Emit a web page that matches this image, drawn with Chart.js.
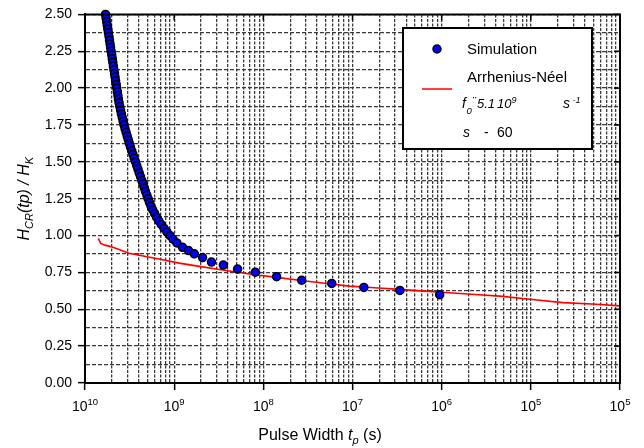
<!DOCTYPE html>
<html>
<head>
<meta charset="utf-8">
<script src="https://cdn.jsdelivr.net/npm/chart.js@4.4.1/dist/chart.umd.min.js"></script>
<style>
  html, body { margin: 0; padding: 0; background: #fff; }
</style>
</head>
<body>
<canvas id="myChart" width="644" height="448"></canvas>
<script>
const FONT = '"Liberation Sans", Arial, Helvetica, sans-serif';

// Simulation: pulse width (s) and H_CR / H_K
const simPulse = [
  1.698e-10, 1.724e-10, 1.750e-10, 1.777e-10, 1.803e-10, 1.830e-10, 1.858e-10, 1.884e-10, 1.910e-10, 1.936e-10,
  1.963e-10, 1.995e-10, 2.023e-10, 2.051e-10, 2.080e-10, 2.109e-10, 2.143e-10, 2.173e-10, 2.203e-10, 2.239e-10,
  2.270e-10, 2.307e-10, 2.339e-10, 2.371e-10, 2.410e-10, 2.455e-10, 2.506e-10, 2.559e-10, 2.618e-10, 2.679e-10,
  2.742e-10, 2.812e-10, 2.891e-10, 2.972e-10, 3.055e-10, 3.141e-10, 3.236e-10, 3.342e-10, 3.451e-10, 3.565e-10,
  3.681e-10, 3.802e-10, 3.926e-10, 4.055e-10, 4.188e-10, 4.325e-10, 4.467e-10, 4.613e-10, 4.764e-10, 4.932e-10,
  5.105e-10, 5.284e-10, 5.495e-10, 5.741e-10, 6.026e-10, 6.339e-10, 6.714e-10, 7.161e-10, 7.674e-10, 8.279e-10,
  8.995e-10, 9.727e-10, 1.072e-9,
  1.24e-9, 1.45e-9, 1.68e-9, 2.08e-9, 2.62e-9, 3.56e-9, 5.14e-9, 8.13e-9, 1.41e-8, 2.69e-8,
  5.85e-8, 1.34e-7, 3.40e-7, 9.50e-7
];
const simField = [
  2.500, 2.475, 2.450, 2.425, 2.400, 2.375, 2.350, 2.325, 2.300, 2.275,
  2.250, 2.225, 2.200, 2.175, 2.150, 2.125, 2.100, 2.075, 2.050, 2.025,
  2.000, 1.975, 1.950, 1.925, 1.900, 1.875, 1.850, 1.825, 1.800, 1.775,
  1.750, 1.725, 1.700, 1.675, 1.650, 1.625, 1.600, 1.575, 1.550, 1.525,
  1.500, 1.475, 1.450, 1.425, 1.400, 1.375, 1.350, 1.325, 1.300, 1.275,
  1.250, 1.225, 1.200, 1.175, 1.150, 1.125, 1.100, 1.075, 1.050, 1.025,
  1.000, 0.975, 0.950,
  0.920, 0.898, 0.876, 0.851, 0.820, 0.800, 0.773, 0.752, 0.721, 0.697,
  0.675, 0.648, 0.628, 0.599
];

// Arrhenius-Neel fit
const fitPulse = [
  1.41e-10, 1.50e-10, 1.68e-10, 1.94e-10, 2.41e-10, 3.12e-10, 4.81e-10, 7.40e-10, 1.14e-9, 1.91e-9,
  3.65e-9, 6.97e-9, 1.33e-8, 2.54e-8, 4.84e-8, 9.25e-8, 1.77e-7, 3.37e-7, 6.44e-7, 1.23e-6,
  2.35e-6, 4.49e-6, 9.75e-6, 2.29e-5, 5.47e-5, 1.0e-4
];
const fitField = [
  0.981, 0.947, 0.935, 0.925, 0.905, 0.880, 0.858, 0.836, 0.813, 0.791,
  0.765, 0.739, 0.718, 0.697, 0.677, 0.657, 0.646, 0.635, 0.623, 0.612,
  0.600, 0.589, 0.568, 0.545, 0.534, 0.523
];

// x axis decade labels (as printed)
const xDecades = [1e-10, 1e-9, 1e-8, 1e-7, 1e-6, 1e-5, 1e-4];
const xDecadeExp = ['10', '9', '8', '7', '6', '5', '5'];

const isDecade = v => Math.abs(Math.log10(v) - Math.round(Math.log10(v))) < 1e-6;
const isQuarter = v => Math.abs(v / 0.25 - Math.round(v / 0.25)) < 1e-6;

function fontOf(r) {
  return (r.italic ? 'italic ' : '') + r.size + 'px ' + FONT;
}

// draw a run of text pieces centred on x, baseline y
function drawRuns(ctx, runs, x, y) {
  let w = 0;
  runs.forEach(r => { ctx.font = fontOf(r); r.w = ctx.measureText(r.t).width; w += r.w; });
  let cx = x - w / 2;
  runs.forEach(r => { ctx.font = fontOf(r); ctx.fillText(r.t, cx, y + (r.dy || 0)); cx += r.w; });
}

function piece(ctx, t, x, y, size, italic) {
  ctx.font = fontOf({size, italic});
  ctx.fillText(t, x, y);
}

const extras = {
  id: 'extras',
  afterDraw(chart) {
    const {ctx, chartArea: a, scales} = chart;
    const xs = scales.x, ys = scales.y;
    ctx.save();
    ctx.fillStyle = '#000';
    ctx.textAlign = 'left';
    ctx.textBaseline = 'alphabetic';

    // top and right frame
    ctx.strokeStyle = '#000';
    ctx.lineWidth = 2;
    ctx.beginPath();
    ctx.moveTo(a.left - 1, a.top);
    ctx.lineTo(a.right, a.top);
    ctx.lineTo(a.right, a.bottom + 1);
    ctx.stroke();
    ctx.lineWidth = 1.5;
    ys.ticks.forEach(t => {
      if (!isQuarter(t.value)) return;
      const py = ys.getPixelForValue(t.value);
      ctx.beginPath(); ctx.moveTo(a.right - 6, py); ctx.lineTo(a.right, py); ctx.stroke();
    });
    xDecades.forEach(v => {
      const px = xs.getPixelForValue(v);
      ctx.beginPath(); ctx.moveTo(px, a.top); ctx.lineTo(px, a.top + 6); ctx.stroke();
    });

    // x decade labels
    xDecades.forEach((v, i) => {
      const px = xs.getPixelForValue(v);
      drawRuns(ctx, [
        {t: '10', size: 14},
        {t: xDecadeExp[i], size: 9.5, dy: -6}
      ], px, 411);
    });

    // axis titles
    drawRuns(ctx, [
      {t: 'Pulse Width ', size: 16},
      {t: 't', size: 16, italic: true},
      {t: 'p', size: 11, italic: true, dy: 4},
      {t: ' (s)', size: 16}
    ], 320, 440);

    ctx.save();
    ctx.translate(28.5, (a.top + a.bottom) / 2);
    ctx.rotate(-Math.PI / 2);
    drawRuns(ctx, [
      {t: 'H', size: 16, italic: true},
      {t: 'CR', size: 11, italic: true, dy: 4},
      {t: '(tp) / ', size: 16, italic: true},
      {t: 'H', size: 16, italic: true},
      {t: 'K', size: 11, italic: true, dy: 4}
    ], 0, 0);
    ctx.restore();

    // legend box
    ctx.fillStyle = '#fff';
    ctx.fillRect(403, 28, 189, 121);
    ctx.strokeStyle = '#000';
    ctx.lineWidth = 2;
    ctx.strokeRect(403, 28, 189, 121);

    ctx.beginPath();
    ctx.arc(437, 49, 4, 0, Math.PI * 2);
    ctx.fillStyle = '#0000ff';
    ctx.fill();
    ctx.lineWidth = 1.5;
    ctx.strokeStyle = '#000';
    ctx.stroke();

    ctx.strokeStyle = '#ff0000';
    ctx.lineWidth = 1.5;
    ctx.beginPath(); ctx.moveTo(422, 89); ctx.lineTo(452, 89); ctx.stroke();

    ctx.fillStyle = '#000';
    piece(ctx, 'Simulation', 467, 54, 15);
    piece(ctx, 'Arrhenius-Néel', 467, 81.5, 15);
    piece(ctx, 'f', 462, 108, 14, true);
    piece(ctx, '0', 466.5, 113.5, 9.5, true);
    piece(ctx, '¨', 472, 106, 12, true);
    piece(ctx, '5.1', 477, 108, 13, true);
    piece(ctx, '10', 497, 108, 13, true);
    piece(ctx, '9', 511.5, 102.5, 9, true);
    piece(ctx, 's', 563, 108, 14, true);
    piece(ctx, '-1', 572.5, 102.5, 9, true);
    piece(ctx, 's', 463, 136.5, 14, true);
    piece(ctx, '-', 484, 136.5, 14);
    piece(ctx, '60', 497, 136.5, 14);

    ctx.restore();
  }
};

const ctx = document.getElementById('myChart');

new Chart(ctx, {
  type: 'scatter',
  data: {
    datasets: [{
      label: 'Simulation',
      data: simPulse.map((t, i) => ({x: t, y: simField[i]})),
      pointRadius: 4,
      pointBorderWidth: 1.5,
      pointBackgroundColor: '#0000ff',
      pointBorderColor: '#000',
      showLine: false,
      clip: false
    }, {
      label: 'Arrhenius-Néel',
      data: fitPulse.map((t, i) => ({x: t, y: fitField[i]})),
      showLine: true,
      pointRadius: 0,
      borderColor: '#ff0000',
      borderWidth: 1.6,
      tension: 0
    }]
  },
  options: {
    responsive: false,
    animation: false,
    events: [],
    layout: { padding: { top: 10, right: 24, left: 0, bottom: 0 } },
    plugins: { legend: { display: false }, tooltip: { enabled: false } },
    scales: {
      x: {
        type: 'logarithmic',
        min: 1e-10,
        max: 1e-4,
        afterBuildTicks: s => {
          const ticks = [];
          for (let e = -10; e < -4; e++) {
            for (let m = 1; m <= 9; m++) ticks.push({value: m * Math.pow(10, e)});
          }
          ticks.push({value: 1e-4});
          s.ticks = ticks;
        },
        afterFit: s => { s.height = 65; },
        ticks: { autoSkip: false, maxRotation: 0, callback: () => '' },
        grid: {
          color: '#3a3a3a',
          lineWidth: 1.3,
          tickLength: 7,
          tickWidth: 1.5,
          tickColor: c => (c.tick && isDecade(c.tick.value)) ? '#000' : 'rgba(0,0,0,0)'
        },
        border: { display: true, color: '#000', width: 2, dash: [3, 1.5] }
      },
      y: {
        min: 0,
        max: 2.5,
        afterBuildTicks: s => {
          const ticks = [];
          for (let k = 0; k <= 20; k++) ticks.push({value: k * 0.125});
          s.ticks = ticks;
        },
        afterFit: s => { s.width = 85; },
        ticks: {
          autoSkip: false,
          padding: 6,
          color: '#000',
          font: { family: FONT, size: 14 },
          callback: v => isQuarter(v) ? v.toFixed(2) : ''
        },
        grid: {
          color: '#3a3a3a',
          lineWidth: 1.3,
          tickLength: 7,
          tickWidth: 1.5,
          tickColor: c => (c.tick && isQuarter(c.tick.value)) ? '#000' : 'rgba(0,0,0,0)'
        },
        border: { display: true, color: '#000', width: 2, dash: [4, 2] }
      }
    }
  },
  plugins: [extras]
});
</script>
</body>
</html>
